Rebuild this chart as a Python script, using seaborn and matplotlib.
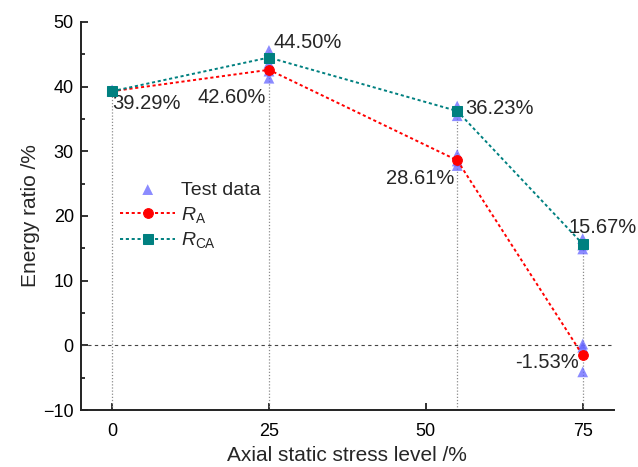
import numpy as np
import pandas as pd
import matplotlib
matplotlib.use("Agg")
import matplotlib.pyplot as plt
import seaborn as sns

# Axial static stress levels (%)
stress_levels = [0, 25, 55, 75]
# Model curves (%)
r_a = [39.29, 42.60, 28.61, -1.53]
r_ca = [39.29, 44.50, 36.23, 15.67]
# Test data points (%)
test_x = [0, 0, 25, 25, 25, 25, 25, 55, 55, 55, 55, 55, 55, 75, 75, 75, 75, 75, 75]
test_y = [39.3, 39.5, 45.6, 44.6, 43.6, 42.4, 41.3, 37.0, 36.2, 35.5, 29.5, 28.5, 27.8,
          16.5, 15.5, 14.9, 0.2, -0.3, -4.1]
x_ticks = [0, 25, 50, 75]

sns.set_style("ticks")
plt.rcParams["font.family"] = ["Liberation Sans", "DejaVu Sans"]
plt.rcParams["mathtext.fontset"] = "custom"
plt.rcParams["mathtext.rm"] = "Liberation Sans"
plt.rcParams["mathtext.it"] = "Liberation Sans:italic"

fig = plt.figure(figsize=(6.38, 4.67), dpi=100)
ax = fig.add_axes([0.1265, 0.122, 0.836, 0.831])

# drop lines from the axis to the highest point at each level
tests = pd.DataFrame({"x": test_x, "y": test_y})
tops = tests.groupby("x")["y"].max()
tops.loc[0] = max(tops.loc[0], r_a[0])
ax.vlines(tops.index, -10, tops.values, colors="#8c8c8c", linestyles=(0, (1, 1.5)),
          linewidth=0.9, zorder=1)
ax.axhline(0, color="#444444", linestyle=(0, (3, 3)), linewidth=0.8, zorder=1)

sns.scatterplot(data=tests, x="x", y="y", marker="^", s=60, color="#6464ff",
                alpha=0.75, edgecolor="none", ax=ax, label="Test data", zorder=3)

curves = pd.DataFrame({"x": stress_levels, "ra": r_a, "rca": r_ca})
sns.lineplot(data=curves, x="x", y="ra", color="#ff0000", linestyle=(0, (1.6, 1.4)),
             linewidth=1.4, marker="o", markersize=7, markeredgecolor="#ff0000",
             ax=ax, label=r"$R_{\rm A}$", zorder=4)
sns.lineplot(data=curves, x="x", y="rca", color="#008080", linestyle=(0, (1.6, 1.4)),
             linewidth=1.4, marker="s", markersize=6.5, markeredgecolor="#008080",
             ax=ax, label=r"$R_{\rm CA}$", zorder=5)

# value labels
fs = 14.5
ax.annotate(f"{r_a[0]:.2f}%", (stress_levels[0], r_a[0]), xytext=(0, -2),
            textcoords="offset points", ha="left", va="top", fontsize=fs)
ax.annotate(f"{r_ca[1]:.2f}%", (stress_levels[1], r_ca[1]), xytext=(3, 4),
            textcoords="offset points", ha="left", va="bottom", fontsize=fs)
ax.annotate(f"{r_a[1]:.2f}%", (stress_levels[1], r_a[1]), xytext=(-2, -13),
            textcoords="offset points", ha="right", va="top", fontsize=fs)
ax.annotate(f"{r_ca[2]:.2f}%", (stress_levels[2], r_ca[2]), xytext=(6, 2),
            textcoords="offset points", ha="left", va="center", fontsize=fs)
ax.annotate(f"{r_a[2]:.2f}%", (stress_levels[2], r_a[2]), xytext=(-2, -6),
            textcoords="offset points", ha="right", va="top", fontsize=fs)
ax.annotate(f"{r_ca[3]:.2f}%", (stress_levels[3], r_ca[3]), xytext=(-10, 5),
            textcoords="offset points", ha="left", va="bottom", fontsize=fs)
ax.annotate(f"{r_a[3]:.2f}%", (stress_levels[3], r_a[3]), xytext=(-3, -5),
            textcoords="offset points", ha="right", va="center", fontsize=fs)

ax.set_xlim(-5, 80)
ax.set_ylim(-10, 50)
ax.set_xticks(x_ticks)
ax.set_yticks(np.arange(-10, 51, 10))
ax.set_yticks(np.arange(-5, 50, 10), minor=True)
ax.tick_params(axis="both", which="both", direction="in", labelsize=13, width=1.3,
               colors="#222222", labelcolor="black")
ax.tick_params(axis="both", which="major", length=5, pad=9)
ax.tick_params(axis="y", which="minor", length=3)
ax.tick_params(axis="y", which="major", pad=5)
for side in ("top", "right"):
    ax.spines[side].set_visible(False)
for side in ("left", "bottom"):
    ax.spines[side].set_linewidth(1.4)
    ax.spines[side].set_color("#222222")

ax.set_xlabel("Axial static stress level /%", fontsize=15, labelpad=5)
ax.set_ylabel("Energy ratio /%", fontsize=15, labelpad=2)

ax.legend(loc="upper left", bbox_to_anchor=(0.06, 0.61), frameon=False, fontsize=14,
          handlelength=2.8, labelspacing=0.3, borderaxespad=0, handletextpad=0.3)

fig.savefig("out.png", dpi=100)
